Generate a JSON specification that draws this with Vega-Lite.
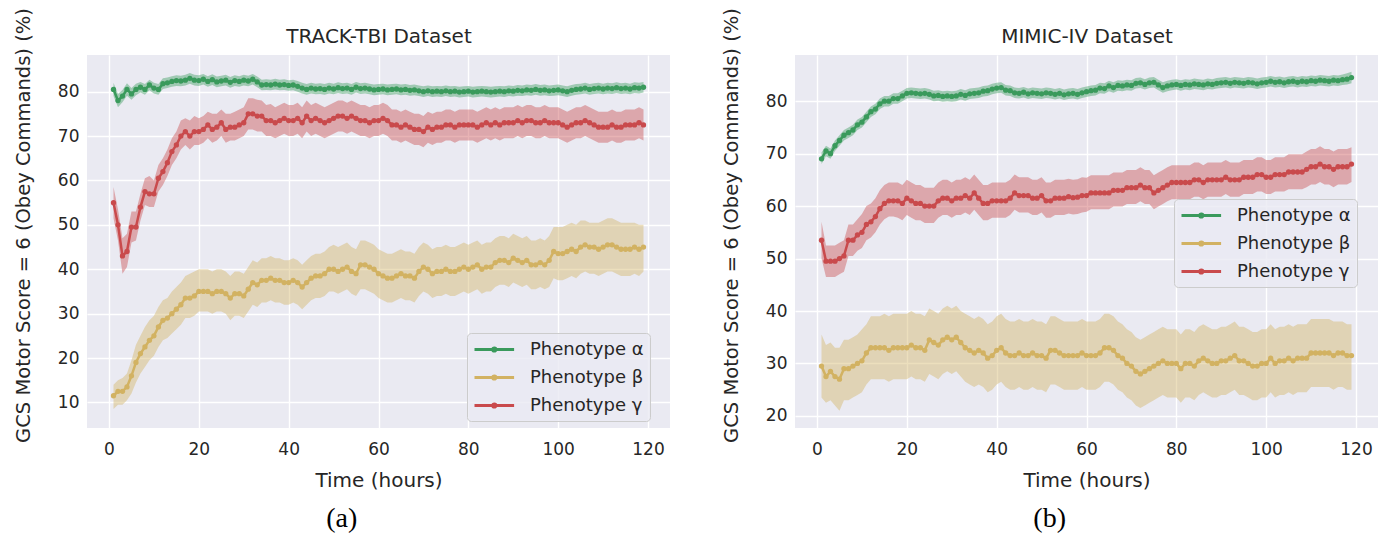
{
  "$schema": "https://vega.github.io/schema/vega-lite/v6.json",
  "background": "white",
  "padding": {"left": 13, "top": 7, "right": 0, "bottom": 0},
  "config": {
    "view": {"fill": "#EAEAF2", "stroke": null},
    "axis": {
      "grid": true, "gridColor": "#FFFFFF", "gridWidth": 1.4, "domain": false, "ticks": false,
      "labelFont": "DejaVu Sans", "labelFontSize": 17, "labelColor": "#262626",
      "titleFont": "DejaVu Sans", "titleFontSize": 20, "titleFontWeight": "normal", "titleColor": "#262626"
    },
    "axisX": {"labelPadding": 13, "titlePadding": 13},
    "axisY": {"labelPadding": 8, "titlePadding": 24, "titleFontSize": 19.5, "titleY": 170},
    "legend": {
      "labelFont": "DejaVu Sans", "labelFontSize": 18, "labelColor": "#262626",
      "fillColor": "rgba(234,234,242,0.8)", "strokeColor": "#CCCCCC", "cornerRadius": 4, "padding": 6,
      "rowPadding": 8, "labelOffset": 36,
      "symbolType": "M-1,0H3.4M1.02,0A0.18,0.18,0,1,1,1.38,0A0.18,0.18,0,1,1,1.02,0",
      "symbolSize": 324, "symbolStrokeWidth": 3, "symbolOpacity": 1
    }
  },
  "resolve": {"scale": {"color": "independent"}, "legend": {"color": "independent"}},
  "data": {"values": [
    {"p":"a","s":"α","t":1,"m":80.5,"lo":79,"hi":82},{"p":"a","s":"α","t":2,"m":78,"lo":76.5,"hi":79.5},{"p":"a","s":"α","t":3,"m":79,"lo":77.6,"hi":80.4},{"p":"a","s":"α","t":4,"m":80.5,"lo":79.1,"hi":81.9},{"p":"a","s":"α","t":5,"m":79.5,"lo":78.2,"hi":80.8},{"p":"a","s":"α","t":6,"m":80.5,"lo":79.2,"hi":81.8},{"p":"a","s":"α","t":7,"m":81,"lo":79.8,"hi":82.2},{"p":"a","s":"α","t":8,"m":80.5,"lo":79.3,"hi":81.7},{"p":"a","s":"α","t":9,"m":81.5,"lo":80.3,"hi":82.7},{"p":"a","s":"α","t":10,"m":80.8,"lo":79.6,"hi":82},
    {"p":"a","s":"α","t":11,"m":80.5,"lo":79.3,"hi":81.7},{"p":"a","s":"α","t":12,"m":81.8,"lo":80.6,"hi":83},{"p":"a","s":"α","t":13,"m":82,"lo":80.8,"hi":83.2},{"p":"a","s":"α","t":14,"m":82.3,"lo":81.1,"hi":83.5},{"p":"a","s":"α","t":15,"m":82.5,"lo":81.3,"hi":83.7},{"p":"a","s":"α","t":16,"m":82.4,"lo":81.2,"hi":83.6},{"p":"a","s":"α","t":17,"m":82.6,"lo":81.4,"hi":83.8},{"p":"a","s":"α","t":18,"m":83,"lo":81.8,"hi":84.2},{"p":"a","s":"α","t":19,"m":82.6,"lo":81.4,"hi":83.8},{"p":"a","s":"α","t":20,"m":82.5,"lo":81.3,"hi":83.7},
    {"p":"a","s":"α","t":21,"m":82.8,"lo":81.6,"hi":84},{"p":"a","s":"α","t":22,"m":82.3,"lo":81.1,"hi":83.5},{"p":"a","s":"α","t":23,"m":82.7,"lo":81.5,"hi":83.9},{"p":"a","s":"α","t":24,"m":82.2,"lo":81,"hi":83.4},{"p":"a","s":"α","t":25,"m":82.4,"lo":81.2,"hi":83.6},{"p":"a","s":"α","t":26,"m":82.6,"lo":81.4,"hi":83.8},{"p":"a","s":"α","t":27,"m":82.1,"lo":80.9,"hi":83.3},{"p":"a","s":"α","t":28,"m":82.5,"lo":81.3,"hi":83.7},{"p":"a","s":"α","t":29,"m":82.3,"lo":81.1,"hi":83.5},{"p":"a","s":"α","t":30,"m":82.6,"lo":81.4,"hi":83.8},
    {"p":"a","s":"α","t":31,"m":82.4,"lo":81.2,"hi":83.6},{"p":"a","s":"α","t":32,"m":82.8,"lo":81.6,"hi":84},{"p":"a","s":"α","t":33,"m":82.2,"lo":81,"hi":83.4},{"p":"a","s":"α","t":34,"m":81.5,"lo":80.3,"hi":82.7},{"p":"a","s":"α","t":35,"m":81.6,"lo":80.4,"hi":82.8},{"p":"a","s":"α","t":36,"m":81.5,"lo":80.3,"hi":82.7},{"p":"a","s":"α","t":37,"m":81.7,"lo":80.5,"hi":82.9},{"p":"a","s":"α","t":38,"m":81.5,"lo":80.3,"hi":82.7},{"p":"a","s":"α","t":39,"m":81.6,"lo":80.4,"hi":82.8},{"p":"a","s":"α","t":40,"m":81.4,"lo":80.2,"hi":82.6},
    {"p":"a","s":"α","t":41,"m":81.5,"lo":80.3,"hi":82.7},{"p":"a","s":"α","t":42,"m":81.2,"lo":80,"hi":82.4},{"p":"a","s":"α","t":43,"m":80.8,"lo":79.6,"hi":82},{"p":"a","s":"α","t":44,"m":80.5,"lo":79.3,"hi":81.7},{"p":"a","s":"α","t":45,"m":80.8,"lo":79.6,"hi":82},{"p":"a","s":"α","t":46,"m":80.6,"lo":79.4,"hi":81.8},{"p":"a","s":"α","t":47,"m":80.7,"lo":79.5,"hi":81.9},{"p":"a","s":"α","t":48,"m":80.5,"lo":79.3,"hi":81.7},{"p":"a","s":"α","t":49,"m":80.8,"lo":79.6,"hi":82},{"p":"a","s":"α","t":50,"m":80.6,"lo":79.4,"hi":81.8},
    {"p":"a","s":"α","t":51,"m":80.9,"lo":79.7,"hi":82.1},{"p":"a","s":"α","t":52,"m":80.7,"lo":79.5,"hi":81.9},{"p":"a","s":"α","t":53,"m":80.8,"lo":79.6,"hi":82},{"p":"a","s":"α","t":54,"m":80.5,"lo":79.3,"hi":81.7},{"p":"a","s":"α","t":55,"m":81,"lo":79.8,"hi":82.2},{"p":"a","s":"α","t":56,"m":80.7,"lo":79.5,"hi":81.9},{"p":"a","s":"α","t":57,"m":80.8,"lo":79.6,"hi":82},{"p":"a","s":"α","t":58,"m":80.6,"lo":79.4,"hi":81.8},{"p":"a","s":"α","t":59,"m":80.4,"lo":79.2,"hi":81.6},{"p":"a","s":"α","t":60,"m":80.5,"lo":79.3,"hi":81.7},
    {"p":"a","s":"α","t":61,"m":80.6,"lo":79.4,"hi":81.8},{"p":"a","s":"α","t":62,"m":80.4,"lo":79.2,"hi":81.6},{"p":"a","s":"α","t":63,"m":80.5,"lo":79.3,"hi":81.7},{"p":"a","s":"α","t":64,"m":80.6,"lo":79.4,"hi":81.8},{"p":"a","s":"α","t":65,"m":80.4,"lo":79.2,"hi":81.6},{"p":"a","s":"α","t":66,"m":80.5,"lo":79.3,"hi":81.7},{"p":"a","s":"α","t":67,"m":80.3,"lo":79.1,"hi":81.5},{"p":"a","s":"α","t":68,"m":80.4,"lo":79.2,"hi":81.6},{"p":"a","s":"α","t":69,"m":80.2,"lo":79,"hi":81.4},{"p":"a","s":"α","t":70,"m":80,"lo":78.8,"hi":81.2},
    {"p":"a","s":"α","t":71,"m":80.2,"lo":79,"hi":81.4},{"p":"a","s":"α","t":72,"m":80,"lo":78.8,"hi":81.2},{"p":"a","s":"α","t":73,"m":80.1,"lo":78.9,"hi":81.3},{"p":"a","s":"α","t":74,"m":80,"lo":78.8,"hi":81.2},{"p":"a","s":"α","t":75,"m":80.2,"lo":79,"hi":81.4},{"p":"a","s":"α","t":76,"m":80,"lo":78.8,"hi":81.2},{"p":"a","s":"α","t":77,"m":80.1,"lo":78.9,"hi":81.3},{"p":"a","s":"α","t":78,"m":79.9,"lo":78.7,"hi":81.1},{"p":"a","s":"α","t":79,"m":80,"lo":78.8,"hi":81.2},{"p":"a","s":"α","t":80,"m":80.1,"lo":78.9,"hi":81.3},
    {"p":"a","s":"α","t":81,"m":79.9,"lo":78.7,"hi":81.1},{"p":"a","s":"α","t":82,"m":80,"lo":78.8,"hi":81.2},{"p":"a","s":"α","t":83,"m":80.1,"lo":78.9,"hi":81.3},{"p":"a","s":"α","t":84,"m":80,"lo":78.8,"hi":81.2},{"p":"a","s":"α","t":85,"m":79.9,"lo":78.7,"hi":81.1},{"p":"a","s":"α","t":86,"m":80,"lo":78.8,"hi":81.2},{"p":"a","s":"α","t":87,"m":80.1,"lo":78.9,"hi":81.3},{"p":"a","s":"α","t":88,"m":80,"lo":78.8,"hi":81.2},{"p":"a","s":"α","t":89,"m":80.2,"lo":79,"hi":81.4},{"p":"a","s":"α","t":90,"m":80.1,"lo":78.9,"hi":81.3},
    {"p":"a","s":"α","t":91,"m":80.3,"lo":79.1,"hi":81.5},{"p":"a","s":"α","t":92,"m":80.2,"lo":79,"hi":81.4},{"p":"a","s":"α","t":93,"m":80.4,"lo":79.2,"hi":81.6},{"p":"a","s":"α","t":94,"m":80.3,"lo":79.1,"hi":81.5},{"p":"a","s":"α","t":95,"m":80.5,"lo":79.3,"hi":81.7},{"p":"a","s":"α","t":96,"m":80.3,"lo":79.1,"hi":81.5},{"p":"a","s":"α","t":97,"m":80.4,"lo":79.2,"hi":81.6},{"p":"a","s":"α","t":98,"m":80.2,"lo":79,"hi":81.4},{"p":"a","s":"α","t":99,"m":80.3,"lo":79.1,"hi":81.5},{"p":"a","s":"α","t":100,"m":80.4,"lo":79.2,"hi":81.6},
    {"p":"a","s":"α","t":101,"m":80.2,"lo":79,"hi":81.4},{"p":"a","s":"α","t":102,"m":80,"lo":78.8,"hi":81.2},{"p":"a","s":"α","t":103,"m":80.3,"lo":79.1,"hi":81.5},{"p":"a","s":"α","t":104,"m":80.5,"lo":79.3,"hi":81.7},{"p":"a","s":"α","t":105,"m":80.6,"lo":79.4,"hi":81.8},{"p":"a","s":"α","t":106,"m":80.8,"lo":79.6,"hi":82},{"p":"a","s":"α","t":107,"m":80.5,"lo":79.3,"hi":81.7},{"p":"a","s":"α","t":108,"m":80.7,"lo":79.5,"hi":81.9},{"p":"a","s":"α","t":109,"m":80.8,"lo":79.6,"hi":82},{"p":"a","s":"α","t":110,"m":80.6,"lo":79.4,"hi":81.8},
    {"p":"a","s":"α","t":111,"m":80.8,"lo":79.6,"hi":82},{"p":"a","s":"α","t":112,"m":80.7,"lo":79.5,"hi":81.9},{"p":"a","s":"α","t":113,"m":80.9,"lo":79.7,"hi":82.1},{"p":"a","s":"α","t":114,"m":80.7,"lo":79.5,"hi":81.9},{"p":"a","s":"α","t":115,"m":80.8,"lo":79.6,"hi":82},{"p":"a","s":"α","t":116,"m":80.6,"lo":79.4,"hi":81.8},{"p":"a","s":"α","t":117,"m":80.9,"lo":79.7,"hi":82.1},{"p":"a","s":"α","t":118,"m":80.8,"lo":79.6,"hi":82},{"p":"a","s":"α","t":119,"m":81,"lo":79.8,"hi":82.2},

    {"p":"a","s":"β","t":1,"m":11.5,"lo":8.5,"hi":14},{"p":"a","s":"β","t":2,"m":12.5,"lo":9.5,"hi":15},{"p":"a","s":"β","t":3,"m":12.5,"lo":9.5,"hi":15.5},{"p":"a","s":"β","t":4,"m":13.5,"lo":10.5,"hi":16.5},{"p":"a","s":"β","t":5,"m":16,"lo":12,"hi":19.5},{"p":"a","s":"β","t":6,"m":19,"lo":14.5,"hi":23},{"p":"a","s":"β","t":7,"m":21,"lo":16.5,"hi":25},{"p":"a","s":"β","t":8,"m":22.5,"lo":18,"hi":27},{"p":"a","s":"β","t":9,"m":24,"lo":19.5,"hi":28.5},{"p":"a","s":"β","t":10,"m":25,"lo":20.5,"hi":29.5},
    {"p":"a","s":"β","t":11,"m":27,"lo":22.5,"hi":31.5},{"p":"a","s":"β","t":12,"m":28.5,"lo":24,"hi":33},{"p":"a","s":"β","t":13,"m":29,"lo":24.5,"hi":33.5},{"p":"a","s":"β","t":14,"m":30,"lo":25.5,"hi":35},{"p":"a","s":"β","t":15,"m":31,"lo":26.5,"hi":36},{"p":"a","s":"β","t":16,"m":32,"lo":27.5,"hi":37},{"p":"a","s":"β","t":17,"m":33.5,"lo":29,"hi":38.5},{"p":"a","s":"β","t":18,"m":33.5,"lo":29,"hi":39},{"p":"a","s":"β","t":19,"m":34,"lo":29.5,"hi":39.5},{"p":"a","s":"β","t":20,"m":35,"lo":30.5,"hi":40},
    {"p":"a","s":"β","t":21,"m":35,"lo":30.5,"hi":40},{"p":"a","s":"β","t":22,"m":35,"lo":30.5,"hi":40},{"p":"a","s":"β","t":23,"m":34.5,"lo":30,"hi":39.5},{"p":"a","s":"β","t":24,"m":35,"lo":30.5,"hi":40},{"p":"a","s":"β","t":25,"m":35,"lo":30.5,"hi":40},{"p":"a","s":"β","t":26,"m":34.5,"lo":30,"hi":39.5},{"p":"a","s":"β","t":27,"m":33.5,"lo":28.5,"hi":38.5},{"p":"a","s":"β","t":28,"m":34.5,"lo":29.5,"hi":39.5},{"p":"a","s":"β","t":29,"m":34.5,"lo":29.5,"hi":39.5},{"p":"a","s":"β","t":30,"m":34,"lo":29,"hi":39},
    {"p":"a","s":"β","t":31,"m":35.5,"lo":30.5,"hi":40.5},{"p":"a","s":"β","t":32,"m":37,"lo":32,"hi":42},{"p":"a","s":"β","t":33,"m":36.5,"lo":31.5,"hi":41.5},{"p":"a","s":"β","t":34,"m":37.5,"lo":32.5,"hi":42.5},{"p":"a","s":"β","t":35,"m":37.5,"lo":32.5,"hi":42.5},{"p":"a","s":"β","t":36,"m":38,"lo":33,"hi":43},{"p":"a","s":"β","t":37,"m":37.5,"lo":32.5,"hi":42.5},{"p":"a","s":"β","t":38,"m":37.5,"lo":32.5,"hi":42.5},{"p":"a","s":"β","t":39,"m":37,"lo":32,"hi":42},{"p":"a","s":"β","t":40,"m":37,"lo":32,"hi":42},
    {"p":"a","s":"β","t":41,"m":37.5,"lo":32.5,"hi":42.5},{"p":"a","s":"β","t":42,"m":37,"lo":32,"hi":42},{"p":"a","s":"β","t":43,"m":36,"lo":31,"hi":41},{"p":"a","s":"β","t":44,"m":37,"lo":32,"hi":42},{"p":"a","s":"β","t":45,"m":38,"lo":33,"hi":43},{"p":"a","s":"β","t":46,"m":38.5,"lo":33.5,"hi":43.5},{"p":"a","s":"β","t":47,"m":38.5,"lo":33.5,"hi":43.5},{"p":"a","s":"β","t":48,"m":39,"lo":34,"hi":44},{"p":"a","s":"β","t":49,"m":40,"lo":35,"hi":45},{"p":"a","s":"β","t":50,"m":40,"lo":35,"hi":45.5},
    {"p":"a","s":"β","t":51,"m":39.5,"lo":34.5,"hi":45},{"p":"a","s":"β","t":52,"m":40,"lo":35,"hi":45.5},{"p":"a","s":"β","t":53,"m":40.5,"lo":35.5,"hi":46},{"p":"a","s":"β","t":54,"m":39.5,"lo":34.5,"hi":45},{"p":"a","s":"β","t":55,"m":39,"lo":34,"hi":44.5},{"p":"a","s":"β","t":56,"m":41,"lo":35.5,"hi":46.5},{"p":"a","s":"β","t":57,"m":41,"lo":35.5,"hi":46.5},{"p":"a","s":"β","t":58,"m":40.5,"lo":35,"hi":46},{"p":"a","s":"β","t":59,"m":40,"lo":34.5,"hi":45.5},{"p":"a","s":"β","t":60,"m":39,"lo":33.5,"hi":44.5},
    {"p":"a","s":"β","t":61,"m":38.5,"lo":33,"hi":44},{"p":"a","s":"β","t":62,"m":38,"lo":32.5,"hi":43.5},{"p":"a","s":"β","t":63,"m":38,"lo":32.5,"hi":43.5},{"p":"a","s":"β","t":64,"m":38.5,"lo":33,"hi":44},{"p":"a","s":"β","t":65,"m":39,"lo":33.5,"hi":44.5},{"p":"a","s":"β","t":66,"m":38.5,"lo":33,"hi":44},{"p":"a","s":"β","t":67,"m":38.5,"lo":33,"hi":44},{"p":"a","s":"β","t":68,"m":38,"lo":32.5,"hi":43.5},{"p":"a","s":"β","t":69,"m":39.5,"lo":34,"hi":45},{"p":"a","s":"β","t":70,"m":40.5,"lo":35,"hi":46},
    {"p":"a","s":"β","t":71,"m":40,"lo":34.5,"hi":45.5},{"p":"a","s":"β","t":72,"m":39,"lo":33.5,"hi":44.5},{"p":"a","s":"β","t":73,"m":39.5,"lo":34,"hi":45},{"p":"a","s":"β","t":74,"m":39.5,"lo":34,"hi":45},{"p":"a","s":"β","t":75,"m":40,"lo":34.5,"hi":45.5},{"p":"a","s":"β","t":76,"m":39.5,"lo":34,"hi":45},{"p":"a","s":"β","t":77,"m":39.5,"lo":34,"hi":45},{"p":"a","s":"β","t":78,"m":40,"lo":34.5,"hi":45.5},{"p":"a","s":"β","t":79,"m":40.5,"lo":35,"hi":46},{"p":"a","s":"β","t":80,"m":40,"lo":34.5,"hi":45.5},
    {"p":"a","s":"β","t":81,"m":40.5,"lo":35,"hi":46},{"p":"a","s":"β","t":82,"m":41,"lo":35.5,"hi":46.5},{"p":"a","s":"β","t":83,"m":40,"lo":34.5,"hi":45.5},{"p":"a","s":"β","t":84,"m":40.5,"lo":35,"hi":46},{"p":"a","s":"β","t":85,"m":40.5,"lo":35,"hi":46},{"p":"a","s":"β","t":86,"m":41.5,"lo":36,"hi":47},{"p":"a","s":"β","t":87,"m":42,"lo":36.5,"hi":47.5},{"p":"a","s":"β","t":88,"m":42,"lo":36.5,"hi":47.5},{"p":"a","s":"β","t":89,"m":41.5,"lo":36,"hi":47},{"p":"a","s":"β","t":90,"m":42.5,"lo":37,"hi":48},
    {"p":"a","s":"β","t":91,"m":42,"lo":36.5,"hi":47.5},{"p":"a","s":"β","t":92,"m":41.5,"lo":36,"hi":47},{"p":"a","s":"β","t":93,"m":42,"lo":36.5,"hi":47.5},{"p":"a","s":"β","t":94,"m":41,"lo":35.5,"hi":46.5},{"p":"a","s":"β","t":95,"m":41,"lo":35.5,"hi":46.5},{"p":"a","s":"β","t":96,"m":41.5,"lo":36,"hi":47},{"p":"a","s":"β","t":97,"m":41,"lo":35.5,"hi":46.5},{"p":"a","s":"β","t":98,"m":42,"lo":36,"hi":47.5},{"p":"a","s":"β","t":99,"m":44,"lo":38,"hi":49.5},{"p":"a","s":"β","t":100,"m":43.5,"lo":37.5,"hi":49.5},
    {"p":"a","s":"β","t":101,"m":43.5,"lo":37.5,"hi":49.5},{"p":"a","s":"β","t":102,"m":44,"lo":38,"hi":50},{"p":"a","s":"β","t":103,"m":44.5,"lo":38.5,"hi":50.5},{"p":"a","s":"β","t":104,"m":44,"lo":38,"hi":50},{"p":"a","s":"β","t":105,"m":45,"lo":39,"hi":51},{"p":"a","s":"β","t":106,"m":45.5,"lo":39.5,"hi":51},{"p":"a","s":"β","t":107,"m":45,"lo":39,"hi":50.5},{"p":"a","s":"β","t":108,"m":45,"lo":39,"hi":50.5},{"p":"a","s":"β","t":109,"m":44.5,"lo":38.5,"hi":50.5},{"p":"a","s":"β","t":110,"m":45,"lo":39,"hi":51},
    {"p":"a","s":"β","t":111,"m":45.5,"lo":39.5,"hi":51.5},{"p":"a","s":"β","t":112,"m":45.5,"lo":39.5,"hi":51.5},{"p":"a","s":"β","t":113,"m":45,"lo":39,"hi":51},{"p":"a","s":"β","t":114,"m":44.5,"lo":38.5,"hi":50.5},{"p":"a","s":"β","t":115,"m":44.5,"lo":38.5,"hi":50.5},{"p":"a","s":"β","t":116,"m":44.5,"lo":38.5,"hi":50.5},{"p":"a","s":"β","t":117,"m":45,"lo":39,"hi":50.5},{"p":"a","s":"β","t":118,"m":44.5,"lo":38.5,"hi":50},{"p":"a","s":"β","t":119,"m":45,"lo":39.5,"hi":50},

    {"p":"a","s":"γ","t":1,"m":55,"lo":51.5,"hi":58.5},{"p":"a","s":"γ","t":2,"m":50,"lo":46.5,"hi":53.5},{"p":"a","s":"γ","t":3,"m":43,"lo":39,"hi":47},{"p":"a","s":"γ","t":4,"m":44,"lo":40.5,"hi":48},{"p":"a","s":"γ","t":5,"m":49.5,"lo":46,"hi":53},{"p":"a","s":"γ","t":6,"m":49.5,"lo":46.5,"hi":53},{"p":"a","s":"γ","t":7,"m":54,"lo":51,"hi":57},{"p":"a","s":"γ","t":8,"m":57.5,"lo":54.5,"hi":60.5},{"p":"a","s":"γ","t":9,"m":57,"lo":54,"hi":61},{"p":"a","s":"γ","t":10,"m":57,"lo":54,"hi":60},
    {"p":"a","s":"γ","t":11,"m":60.5,"lo":57.5,"hi":63.5},{"p":"a","s":"γ","t":12,"m":62,"lo":59,"hi":65},{"p":"a","s":"γ","t":13,"m":64,"lo":61,"hi":67},{"p":"a","s":"γ","t":14,"m":66.5,"lo":63.5,"hi":69.5},{"p":"a","s":"γ","t":15,"m":68,"lo":65,"hi":71},{"p":"a","s":"γ","t":16,"m":70,"lo":67,"hi":73.5},{"p":"a","s":"γ","t":17,"m":71,"lo":68,"hi":74},{"p":"a","s":"γ","t":18,"m":70,"lo":67,"hi":73.5},{"p":"a","s":"γ","t":19,"m":71,"lo":68,"hi":74.5},{"p":"a","s":"γ","t":20,"m":71,"lo":68,"hi":74},
    {"p":"a","s":"γ","t":21,"m":71.5,"lo":68.5,"hi":74.5},{"p":"a","s":"γ","t":22,"m":72.5,"lo":69.5,"hi":75.5},{"p":"a","s":"γ","t":23,"m":71.5,"lo":68.5,"hi":75},{"p":"a","s":"γ","t":24,"m":72,"lo":69,"hi":75},{"p":"a","s":"γ","t":25,"m":73,"lo":70,"hi":76},{"p":"a","s":"γ","t":26,"m":71.5,"lo":68.5,"hi":75},{"p":"a","s":"γ","t":27,"m":72,"lo":69,"hi":75},{"p":"a","s":"γ","t":28,"m":72,"lo":69,"hi":75.5},{"p":"a","s":"γ","t":29,"m":72.5,"lo":69.5,"hi":76},{"p":"a","s":"γ","t":30,"m":73,"lo":70,"hi":76.5},
    {"p":"a","s":"γ","t":31,"m":75,"lo":71.5,"hi":78.5},{"p":"a","s":"γ","t":32,"m":75,"lo":71.5,"hi":78.5},{"p":"a","s":"γ","t":33,"m":74.5,"lo":71,"hi":78.2},{"p":"a","s":"γ","t":34,"m":74.5,"lo":71,"hi":78},{"p":"a","s":"γ","t":35,"m":73.5,"lo":70,"hi":77},{"p":"a","s":"γ","t":36,"m":73.5,"lo":70,"hi":77.2},{"p":"a","s":"γ","t":37,"m":73,"lo":69.5,"hi":76.5},{"p":"a","s":"γ","t":38,"m":73.5,"lo":70,"hi":77},{"p":"a","s":"γ","t":39,"m":74,"lo":70.5,"hi":77.5},{"p":"a","s":"γ","t":40,"m":73.5,"lo":70,"hi":77},
    {"p":"a","s":"γ","t":41,"m":73.5,"lo":70,"hi":77},{"p":"a","s":"γ","t":42,"m":74,"lo":70.5,"hi":77.5},{"p":"a","s":"γ","t":43,"m":73,"lo":69.5,"hi":76.5},{"p":"a","s":"γ","t":44,"m":74.5,"lo":71,"hi":78},{"p":"a","s":"γ","t":45,"m":73.5,"lo":70,"hi":77},{"p":"a","s":"γ","t":46,"m":74,"lo":70.5,"hi":77.5},{"p":"a","s":"γ","t":47,"m":73.5,"lo":70,"hi":77},{"p":"a","s":"γ","t":48,"m":73,"lo":69.5,"hi":76.5},{"p":"a","s":"γ","t":49,"m":73.5,"lo":70,"hi":77},{"p":"a","s":"γ","t":50,"m":74,"lo":70.5,"hi":77.5},
    {"p":"a","s":"γ","t":51,"m":74.5,"lo":71,"hi":78},{"p":"a","s":"γ","t":52,"m":74.5,"lo":71,"hi":78},{"p":"a","s":"γ","t":53,"m":74,"lo":70.5,"hi":77.5},{"p":"a","s":"γ","t":54,"m":74.5,"lo":71,"hi":78},{"p":"a","s":"γ","t":55,"m":74,"lo":70.5,"hi":77.5},{"p":"a","s":"γ","t":56,"m":73.5,"lo":70,"hi":77},{"p":"a","s":"γ","t":57,"m":73.5,"lo":70,"hi":77},{"p":"a","s":"γ","t":58,"m":73,"lo":69.5,"hi":76.5},{"p":"a","s":"γ","t":59,"m":73.5,"lo":70,"hi":77},{"p":"a","s":"γ","t":60,"m":73.5,"lo":70,"hi":77},
    {"p":"a","s":"γ","t":61,"m":74,"lo":70.5,"hi":77.5},{"p":"a","s":"γ","t":62,"m":73.5,"lo":70,"hi":77},{"p":"a","s":"γ","t":63,"m":72.5,"lo":69,"hi":76},{"p":"a","s":"γ","t":64,"m":72.5,"lo":69,"hi":76},{"p":"a","s":"γ","t":65,"m":72,"lo":68.5,"hi":75.5},{"p":"a","s":"γ","t":66,"m":72.5,"lo":69,"hi":76},{"p":"a","s":"γ","t":67,"m":72,"lo":68.5,"hi":75.5},{"p":"a","s":"γ","t":68,"m":71.5,"lo":68,"hi":75},{"p":"a","s":"γ","t":69,"m":71.5,"lo":68,"hi":75},{"p":"a","s":"γ","t":70,"m":71,"lo":67.5,"hi":74.5},
    {"p":"a","s":"γ","t":71,"m":72,"lo":68.5,"hi":75.5},{"p":"a","s":"γ","t":72,"m":71.5,"lo":68,"hi":75},{"p":"a","s":"γ","t":73,"m":72,"lo":68.5,"hi":75.5},{"p":"a","s":"γ","t":74,"m":72,"lo":68.5,"hi":75.5},{"p":"a","s":"γ","t":75,"m":72.5,"lo":69,"hi":76},{"p":"a","s":"γ","t":76,"m":72.5,"lo":69,"hi":76},{"p":"a","s":"γ","t":77,"m":72,"lo":68.5,"hi":75.5},{"p":"a","s":"γ","t":78,"m":72.5,"lo":69,"hi":76},{"p":"a","s":"γ","t":79,"m":72.5,"lo":69,"hi":76},{"p":"a","s":"γ","t":80,"m":72.5,"lo":69,"hi":76},
    {"p":"a","s":"γ","t":81,"m":72.5,"lo":69,"hi":76},{"p":"a","s":"γ","t":82,"m":72,"lo":68.5,"hi":75.5},{"p":"a","s":"γ","t":83,"m":72.5,"lo":69,"hi":76},{"p":"a","s":"γ","t":84,"m":73,"lo":69.5,"hi":76.5},{"p":"a","s":"γ","t":85,"m":72.5,"lo":69,"hi":76},{"p":"a","s":"γ","t":86,"m":73,"lo":69.5,"hi":76.5},{"p":"a","s":"γ","t":87,"m":72.5,"lo":69,"hi":76},{"p":"a","s":"γ","t":88,"m":73,"lo":69.5,"hi":76.5},{"p":"a","s":"γ","t":89,"m":73,"lo":69.5,"hi":76.5},{"p":"a","s":"γ","t":90,"m":73,"lo":69.5,"hi":76.5},
    {"p":"a","s":"γ","t":91,"m":73.5,"lo":70,"hi":77},{"p":"a","s":"γ","t":92,"m":73,"lo":69.5,"hi":76.5},{"p":"a","s":"γ","t":93,"m":73.5,"lo":70,"hi":77},{"p":"a","s":"γ","t":94,"m":73.5,"lo":70,"hi":77},{"p":"a","s":"γ","t":95,"m":73,"lo":69.5,"hi":76.5},{"p":"a","s":"γ","t":96,"m":73,"lo":69.5,"hi":76.5},{"p":"a","s":"γ","t":97,"m":73.5,"lo":70,"hi":77},{"p":"a","s":"γ","t":98,"m":73,"lo":69.5,"hi":76.5},{"p":"a","s":"γ","t":99,"m":73,"lo":69.5,"hi":76.5},{"p":"a","s":"γ","t":100,"m":73,"lo":69.5,"hi":76.5},
    {"p":"a","s":"γ","t":101,"m":72.5,"lo":69,"hi":76},{"p":"a","s":"γ","t":102,"m":72,"lo":68.5,"hi":75.5},{"p":"a","s":"γ","t":103,"m":72.5,"lo":69,"hi":76},{"p":"a","s":"γ","t":104,"m":73,"lo":69.5,"hi":76.5},{"p":"a","s":"γ","t":105,"m":73,"lo":69.5,"hi":76.5},{"p":"a","s":"γ","t":106,"m":73.5,"lo":70,"hi":77},{"p":"a","s":"γ","t":107,"m":73,"lo":69.5,"hi":76.5},{"p":"a","s":"γ","t":108,"m":72.5,"lo":69,"hi":76},{"p":"a","s":"γ","t":109,"m":72,"lo":68.5,"hi":75.5},{"p":"a","s":"γ","t":110,"m":72,"lo":68.5,"hi":75.5},
    {"p":"a","s":"γ","t":111,"m":72,"lo":68.5,"hi":75.5},{"p":"a","s":"γ","t":112,"m":72.5,"lo":69,"hi":76},{"p":"a","s":"γ","t":113,"m":72,"lo":68.5,"hi":75.5},{"p":"a","s":"γ","t":114,"m":72,"lo":68.5,"hi":75.5},{"p":"a","s":"γ","t":115,"m":72.5,"lo":69,"hi":76},{"p":"a","s":"γ","t":116,"m":72.5,"lo":69,"hi":76},{"p":"a","s":"γ","t":117,"m":72.5,"lo":69,"hi":76},{"p":"a","s":"γ","t":118,"m":73,"lo":69.5,"hi":76.5},{"p":"a","s":"γ","t":119,"m":72.5,"lo":69,"hi":76},

    {"p":"b","s":"α","t":1,"m":69,"lo":68,"hi":70.2},{"p":"b","s":"α","t":2,"m":70.5,"lo":69.5,"hi":71.5},{"p":"b","s":"α","t":3,"m":70,"lo":69,"hi":71},{"p":"b","s":"α","t":4,"m":71.5,"lo":70.5,"hi":72.5},{"p":"b","s":"α","t":5,"m":72.5,"lo":71.5,"hi":73.5},{"p":"b","s":"α","t":6,"m":73.5,"lo":72.5,"hi":74.5},{"p":"b","s":"α","t":7,"m":74,"lo":73,"hi":75},{"p":"b","s":"α","t":8,"m":74.5,"lo":73.5,"hi":75.5},{"p":"b","s":"α","t":9,"m":75.5,"lo":74.5,"hi":76.5},{"p":"b","s":"α","t":10,"m":76,"lo":75,"hi":77},
    {"p":"b","s":"α","t":11,"m":77,"lo":76,"hi":78},{"p":"b","s":"α","t":12,"m":78,"lo":77,"hi":79},{"p":"b","s":"α","t":13,"m":78.5,"lo":77.5,"hi":79.5},{"p":"b","s":"α","t":14,"m":79.5,"lo":78.5,"hi":80.5},{"p":"b","s":"α","t":15,"m":80,"lo":79,"hi":81},{"p":"b","s":"α","t":16,"m":80,"lo":79,"hi":81},{"p":"b","s":"α","t":17,"m":80.5,"lo":79.5,"hi":81.5},{"p":"b","s":"α","t":18,"m":80.5,"lo":79.5,"hi":81.5},{"p":"b","s":"α","t":19,"m":81,"lo":80,"hi":82},{"p":"b","s":"α","t":20,"m":81.5,"lo":80.5,"hi":82.5},
    {"p":"b","s":"α","t":21,"m":81.6,"lo":80.6,"hi":82.6},{"p":"b","s":"α","t":22,"m":81.5,"lo":80.5,"hi":82.5},{"p":"b","s":"α","t":23,"m":81.4,"lo":80.4,"hi":82.4},{"p":"b","s":"α","t":24,"m":81.5,"lo":80.5,"hi":82.5},{"p":"b","s":"α","t":25,"m":81.3,"lo":80.3,"hi":82.3},{"p":"b","s":"α","t":26,"m":81,"lo":80,"hi":82},{"p":"b","s":"α","t":27,"m":81.1,"lo":80.1,"hi":82.1},{"p":"b","s":"α","t":28,"m":80.9,"lo":79.9,"hi":81.9},{"p":"b","s":"α","t":29,"m":81,"lo":80,"hi":82},{"p":"b","s":"α","t":30,"m":80.9,"lo":79.9,"hi":81.9},
    {"p":"b","s":"α","t":31,"m":81,"lo":80,"hi":82},{"p":"b","s":"α","t":32,"m":81.3,"lo":80.3,"hi":82.3},{"p":"b","s":"α","t":33,"m":81.1,"lo":80.1,"hi":82.1},{"p":"b","s":"α","t":34,"m":81.4,"lo":80.4,"hi":82.4},{"p":"b","s":"α","t":35,"m":81.5,"lo":80.5,"hi":82.5},{"p":"b","s":"α","t":36,"m":81.6,"lo":80.6,"hi":82.6},{"p":"b","s":"α","t":37,"m":81.9,"lo":80.9,"hi":82.9},{"p":"b","s":"α","t":38,"m":82,"lo":81,"hi":83},{"p":"b","s":"α","t":39,"m":82.3,"lo":81.3,"hi":83.3},{"p":"b","s":"α","t":40,"m":82.5,"lo":81.5,"hi":83.5},
    {"p":"b","s":"α","t":41,"m":82.6,"lo":81.6,"hi":83.6},{"p":"b","s":"α","t":42,"m":82.1,"lo":81.1,"hi":83.1},{"p":"b","s":"α","t":43,"m":82,"lo":81,"hi":83},{"p":"b","s":"α","t":44,"m":81.6,"lo":80.6,"hi":82.6},{"p":"b","s":"α","t":45,"m":81.5,"lo":80.5,"hi":82.5},{"p":"b","s":"α","t":46,"m":81.7,"lo":80.7,"hi":82.7},{"p":"b","s":"α","t":47,"m":81.4,"lo":80.4,"hi":82.4},{"p":"b","s":"α","t":48,"m":81.6,"lo":80.6,"hi":82.6},{"p":"b","s":"α","t":49,"m":81.5,"lo":80.5,"hi":82.5},{"p":"b","s":"α","t":50,"m":81.4,"lo":80.4,"hi":82.4},
    {"p":"b","s":"α","t":51,"m":81.6,"lo":80.6,"hi":82.6},{"p":"b","s":"α","t":52,"m":81.5,"lo":80.5,"hi":82.5},{"p":"b","s":"α","t":53,"m":81.3,"lo":80.3,"hi":82.3},{"p":"b","s":"α","t":54,"m":81.5,"lo":80.5,"hi":82.5},{"p":"b","s":"α","t":55,"m":81.2,"lo":80.2,"hi":82.2},{"p":"b","s":"α","t":56,"m":81.4,"lo":80.4,"hi":82.4},{"p":"b","s":"α","t":57,"m":81.5,"lo":80.5,"hi":82.5},{"p":"b","s":"α","t":58,"m":81.3,"lo":80.3,"hi":82.3},{"p":"b","s":"α","t":59,"m":81.6,"lo":80.6,"hi":82.6},{"p":"b","s":"α","t":60,"m":81.8,"lo":80.8,"hi":82.8},
    {"p":"b","s":"α","t":61,"m":82,"lo":81,"hi":83},{"p":"b","s":"α","t":62,"m":82.1,"lo":81.1,"hi":83.1},{"p":"b","s":"α","t":63,"m":82.5,"lo":81.5,"hi":83.5},{"p":"b","s":"α","t":64,"m":82.4,"lo":81.4,"hi":83.4},{"p":"b","s":"α","t":65,"m":82.9,"lo":81.9,"hi":83.9},{"p":"b","s":"α","t":66,"m":82.6,"lo":81.6,"hi":83.6},{"p":"b","s":"α","t":67,"m":83,"lo":82,"hi":84},{"p":"b","s":"α","t":68,"m":82.9,"lo":81.9,"hi":83.9},{"p":"b","s":"α","t":69,"m":83.1,"lo":82.1,"hi":84.1},{"p":"b","s":"α","t":70,"m":83,"lo":82,"hi":84},
    {"p":"b","s":"α","t":71,"m":83.4,"lo":82.4,"hi":84.4},{"p":"b","s":"α","t":72,"m":83.5,"lo":82.5,"hi":84.5},{"p":"b","s":"α","t":73,"m":83.2,"lo":82.2,"hi":84.2},{"p":"b","s":"α","t":74,"m":83.5,"lo":82.5,"hi":84.5},{"p":"b","s":"α","t":75,"m":83.6,"lo":82.6,"hi":84.6},{"p":"b","s":"α","t":76,"m":83.1,"lo":82.1,"hi":84.1},{"p":"b","s":"α","t":77,"m":82.6,"lo":81.6,"hi":83.6},{"p":"b","s":"α","t":78,"m":82.9,"lo":81.9,"hi":83.9},{"p":"b","s":"α","t":79,"m":83.1,"lo":82.1,"hi":84.1},{"p":"b","s":"α","t":80,"m":83.2,"lo":82.2,"hi":84.2},
    {"p":"b","s":"α","t":81,"m":83,"lo":82,"hi":84},{"p":"b","s":"α","t":82,"m":83.2,"lo":82.2,"hi":84.2},{"p":"b","s":"α","t":83,"m":83.1,"lo":82.1,"hi":84.1},{"p":"b","s":"α","t":84,"m":83.3,"lo":82.3,"hi":84.3},{"p":"b","s":"α","t":85,"m":83.2,"lo":82.2,"hi":84.2},{"p":"b","s":"α","t":86,"m":83.1,"lo":82.1,"hi":84.1},{"p":"b","s":"α","t":87,"m":83.3,"lo":82.3,"hi":84.3},{"p":"b","s":"α","t":88,"m":83.2,"lo":82.2,"hi":84.2},{"p":"b","s":"α","t":89,"m":83.4,"lo":82.4,"hi":84.4},{"p":"b","s":"α","t":90,"m":83.5,"lo":82.5,"hi":84.5},
    {"p":"b","s":"α","t":91,"m":83.6,"lo":82.6,"hi":84.6},{"p":"b","s":"α","t":92,"m":83.4,"lo":82.4,"hi":84.4},{"p":"b","s":"α","t":93,"m":83.6,"lo":82.6,"hi":84.6},{"p":"b","s":"α","t":94,"m":83.5,"lo":82.5,"hi":84.5},{"p":"b","s":"α","t":95,"m":83.4,"lo":82.4,"hi":84.4},{"p":"b","s":"α","t":96,"m":83.6,"lo":82.6,"hi":84.6},{"p":"b","s":"α","t":97,"m":83.5,"lo":82.5,"hi":84.5},{"p":"b","s":"α","t":98,"m":83.3,"lo":82.3,"hi":84.3},{"p":"b","s":"α","t":99,"m":83.5,"lo":82.5,"hi":84.5},{"p":"b","s":"α","t":100,"m":83.6,"lo":82.6,"hi":84.6},
    {"p":"b","s":"α","t":101,"m":83.8,"lo":82.8,"hi":84.8},{"p":"b","s":"α","t":102,"m":83.6,"lo":82.6,"hi":84.6},{"p":"b","s":"α","t":103,"m":83.7,"lo":82.7,"hi":84.7},{"p":"b","s":"α","t":104,"m":83.5,"lo":82.5,"hi":84.5},{"p":"b","s":"α","t":105,"m":83.7,"lo":82.7,"hi":84.7},{"p":"b","s":"α","t":106,"m":83.8,"lo":82.8,"hi":84.8},{"p":"b","s":"α","t":107,"m":83.6,"lo":82.6,"hi":84.6},{"p":"b","s":"α","t":108,"m":83.8,"lo":82.8,"hi":84.8},{"p":"b","s":"α","t":109,"m":83.7,"lo":82.7,"hi":84.7},{"p":"b","s":"α","t":110,"m":83.9,"lo":82.9,"hi":84.9},
    {"p":"b","s":"α","t":111,"m":83.8,"lo":82.8,"hi":84.8},{"p":"b","s":"α","t":112,"m":84,"lo":83,"hi":85},{"p":"b","s":"α","t":113,"m":83.9,"lo":82.9,"hi":84.9},{"p":"b","s":"α","t":114,"m":83.8,"lo":82.8,"hi":84.8},{"p":"b","s":"α","t":115,"m":84,"lo":83,"hi":85},{"p":"b","s":"α","t":116,"m":83.9,"lo":82.9,"hi":84.9},{"p":"b","s":"α","t":117,"m":84.1,"lo":83.1,"hi":85.1},{"p":"b","s":"α","t":118,"m":84.2,"lo":83.2,"hi":85.3},{"p":"b","s":"α","t":119,"m":84.5,"lo":83.4,"hi":85.6},

    {"p":"b","s":"β","t":1,"m":29.5,"lo":23.5,"hi":35.5},{"p":"b","s":"β","t":2,"m":27.5,"lo":22.5,"hi":33.5},{"p":"b","s":"β","t":3,"m":28.5,"lo":23,"hi":34},{"p":"b","s":"β","t":4,"m":27.5,"lo":22,"hi":33},{"p":"b","s":"β","t":5,"m":27,"lo":21,"hi":33},{"p":"b","s":"β","t":6,"m":29,"lo":23,"hi":34.5},{"p":"b","s":"β","t":7,"m":29,"lo":23,"hi":34.5},{"p":"b","s":"β","t":8,"m":29.5,"lo":23.5,"hi":35},{"p":"b","s":"β","t":9,"m":30,"lo":24,"hi":35.5},{"p":"b","s":"β","t":10,"m":30.5,"lo":24.5,"hi":36.5},
    {"p":"b","s":"β","t":11,"m":32,"lo":26,"hi":37.5},{"p":"b","s":"β","t":12,"m":33,"lo":27,"hi":39},{"p":"b","s":"β","t":13,"m":33,"lo":27,"hi":39},{"p":"b","s":"β","t":14,"m":33,"lo":27,"hi":39},{"p":"b","s":"β","t":15,"m":33,"lo":27,"hi":39.5},{"p":"b","s":"β","t":16,"m":32.5,"lo":26.5,"hi":39},{"p":"b","s":"β","t":17,"m":33,"lo":27,"hi":39.5},{"p":"b","s":"β","t":18,"m":33,"lo":27,"hi":39.5},{"p":"b","s":"β","t":19,"m":33,"lo":27,"hi":39.5},{"p":"b","s":"β","t":20,"m":33,"lo":27,"hi":39.5},
    {"p":"b","s":"β","t":21,"m":33.5,"lo":27.5,"hi":40},{"p":"b","s":"β","t":22,"m":33,"lo":27,"hi":39.5},{"p":"b","s":"β","t":23,"m":33,"lo":27,"hi":39.5},{"p":"b","s":"β","t":24,"m":32.5,"lo":26.5,"hi":39},{"p":"b","s":"β","t":25,"m":34.5,"lo":28,"hi":40.5},{"p":"b","s":"β","t":26,"m":34,"lo":27.5,"hi":40},{"p":"b","s":"β","t":27,"m":33.5,"lo":27,"hi":39.5},{"p":"b","s":"β","t":28,"m":34.5,"lo":28,"hi":40.5},{"p":"b","s":"β","t":29,"m":35,"lo":28.5,"hi":41},{"p":"b","s":"β","t":30,"m":34.5,"lo":28,"hi":40.5},
    {"p":"b","s":"β","t":31,"m":35,"lo":28.5,"hi":41},{"p":"b","s":"β","t":32,"m":34,"lo":27.5,"hi":40},{"p":"b","s":"β","t":33,"m":33,"lo":26.5,"hi":39.5},{"p":"b","s":"β","t":34,"m":32.5,"lo":26,"hi":39},{"p":"b","s":"β","t":35,"m":32,"lo":25.5,"hi":38.5},{"p":"b","s":"β","t":36,"m":32.5,"lo":26,"hi":39},{"p":"b","s":"β","t":37,"m":32,"lo":25.5,"hi":38.5},{"p":"b","s":"β","t":38,"m":31,"lo":24.5,"hi":37.5},{"p":"b","s":"β","t":39,"m":31.5,"lo":25,"hi":38},{"p":"b","s":"β","t":40,"m":32.5,"lo":26,"hi":39},
    {"p":"b","s":"β","t":41,"m":33,"lo":26.5,"hi":39.5},{"p":"b","s":"β","t":42,"m":32,"lo":25.5,"hi":38.5},{"p":"b","s":"β","t":43,"m":31.5,"lo":25,"hi":38},{"p":"b","s":"β","t":44,"m":31.5,"lo":25,"hi":38},{"p":"b","s":"β","t":45,"m":32,"lo":25.5,"hi":38.5},{"p":"b","s":"β","t":46,"m":31.5,"lo":25,"hi":38},{"p":"b","s":"β","t":47,"m":31.5,"lo":25,"hi":38},{"p":"b","s":"β","t":48,"m":32,"lo":25.5,"hi":38.5},{"p":"b","s":"β","t":49,"m":31.5,"lo":25,"hi":38},{"p":"b","s":"β","t":50,"m":31.5,"lo":25,"hi":38},
    {"p":"b","s":"β","t":51,"m":31,"lo":24.5,"hi":37.5},{"p":"b","s":"β","t":52,"m":32.5,"lo":26,"hi":39},{"p":"b","s":"β","t":53,"m":32.5,"lo":26,"hi":39},{"p":"b","s":"β","t":54,"m":32,"lo":25.5,"hi":38.5},{"p":"b","s":"β","t":55,"m":31.5,"lo":25,"hi":38},{"p":"b","s":"β","t":56,"m":31.5,"lo":25,"hi":38},{"p":"b","s":"β","t":57,"m":31.5,"lo":25,"hi":38},{"p":"b","s":"β","t":58,"m":31.5,"lo":25,"hi":38},{"p":"b","s":"β","t":59,"m":32,"lo":25.5,"hi":38.5},{"p":"b","s":"β","t":60,"m":31.5,"lo":25,"hi":38},
    {"p":"b","s":"β","t":61,"m":31.5,"lo":25,"hi":38},{"p":"b","s":"β","t":62,"m":31.5,"lo":25,"hi":38},{"p":"b","s":"β","t":63,"m":32,"lo":25.5,"hi":38.5},{"p":"b","s":"β","t":64,"m":33,"lo":26.5,"hi":39.5},{"p":"b","s":"β","t":65,"m":33,"lo":26.5,"hi":39.5},{"p":"b","s":"β","t":66,"m":32.5,"lo":26,"hi":39},{"p":"b","s":"β","t":67,"m":31.5,"lo":25,"hi":38},{"p":"b","s":"β","t":68,"m":31,"lo":24.5,"hi":37.5},{"p":"b","s":"β","t":69,"m":30,"lo":23.5,"hi":36.5},{"p":"b","s":"β","t":70,"m":29.5,"lo":23,"hi":36},
    {"p":"b","s":"β","t":71,"m":28.5,"lo":22,"hi":35},{"p":"b","s":"β","t":72,"m":28,"lo":21.5,"hi":34.5},{"p":"b","s":"β","t":73,"m":28.5,"lo":22,"hi":35},{"p":"b","s":"β","t":74,"m":29,"lo":22.5,"hi":35.5},{"p":"b","s":"β","t":75,"m":29.5,"lo":23,"hi":36},{"p":"b","s":"β","t":76,"m":30,"lo":23.5,"hi":36.5},{"p":"b","s":"β","t":77,"m":30.5,"lo":24,"hi":37},{"p":"b","s":"β","t":78,"m":30,"lo":23.5,"hi":36.5},{"p":"b","s":"β","t":79,"m":30,"lo":23.5,"hi":36.5},{"p":"b","s":"β","t":80,"m":30,"lo":23.5,"hi":36.5},
    {"p":"b","s":"β","t":81,"m":29,"lo":22.5,"hi":35.5},{"p":"b","s":"β","t":82,"m":30,"lo":23.5,"hi":36.5},{"p":"b","s":"β","t":83,"m":30,"lo":23.5,"hi":36.5},{"p":"b","s":"β","t":84,"m":29.5,"lo":23,"hi":36},{"p":"b","s":"β","t":85,"m":30.5,"lo":24,"hi":37},{"p":"b","s":"β","t":86,"m":31,"lo":24.5,"hi":37.5},{"p":"b","s":"β","t":87,"m":30.5,"lo":24,"hi":37},{"p":"b","s":"β","t":88,"m":30,"lo":23.5,"hi":36.5},{"p":"b","s":"β","t":89,"m":30,"lo":23.5,"hi":36.5},{"p":"b","s":"β","t":90,"m":30.5,"lo":24,"hi":37},
    {"p":"b","s":"β","t":91,"m":30.5,"lo":24,"hi":37},{"p":"b","s":"β","t":92,"m":31,"lo":24.5,"hi":37.5},{"p":"b","s":"β","t":93,"m":31.5,"lo":25,"hi":38},{"p":"b","s":"β","t":94,"m":30.5,"lo":24,"hi":37},{"p":"b","s":"β","t":95,"m":30.5,"lo":24,"hi":37},{"p":"b","s":"β","t":96,"m":30,"lo":23.5,"hi":36.5},{"p":"b","s":"β","t":97,"m":29.5,"lo":23,"hi":36},{"p":"b","s":"β","t":98,"m":29.5,"lo":23,"hi":36},{"p":"b","s":"β","t":99,"m":30,"lo":23.5,"hi":36.5},{"p":"b","s":"β","t":100,"m":30,"lo":23.5,"hi":36.5},
    {"p":"b","s":"β","t":101,"m":31,"lo":24.5,"hi":37.5},{"p":"b","s":"β","t":102,"m":30,"lo":23.5,"hi":36.5},{"p":"b","s":"β","t":103,"m":30.5,"lo":24,"hi":37},{"p":"b","s":"β","t":104,"m":30.5,"lo":24,"hi":37},{"p":"b","s":"β","t":105,"m":31,"lo":24.5,"hi":37.5},{"p":"b","s":"β","t":106,"m":30.5,"lo":24,"hi":37},{"p":"b","s":"β","t":107,"m":31,"lo":24.5,"hi":37.5},{"p":"b","s":"β","t":108,"m":31,"lo":24.5,"hi":37.5},{"p":"b","s":"β","t":109,"m":31,"lo":24.5,"hi":37.5},{"p":"b","s":"β","t":110,"m":32,"lo":25.5,"hi":38.5},
    {"p":"b","s":"β","t":111,"m":32,"lo":25.5,"hi":38.5},{"p":"b","s":"β","t":112,"m":32,"lo":25.5,"hi":38.5},{"p":"b","s":"β","t":113,"m":32,"lo":25.5,"hi":38.5},{"p":"b","s":"β","t":114,"m":32,"lo":25.5,"hi":38.5},{"p":"b","s":"β","t":115,"m":31.5,"lo":25,"hi":38},{"p":"b","s":"β","t":116,"m":32,"lo":25.5,"hi":38},{"p":"b","s":"β","t":117,"m":32,"lo":25.5,"hi":38},{"p":"b","s":"β","t":118,"m":31.5,"lo":25,"hi":37.5},{"p":"b","s":"β","t":119,"m":31.5,"lo":25,"hi":37.5},

    {"p":"b","s":"γ","t":1,"m":53.5,"lo":50,"hi":57},{"p":"b","s":"γ","t":2,"m":49.5,"lo":46.5,"hi":52.5},{"p":"b","s":"γ","t":3,"m":49.5,"lo":46.5,"hi":52.5},{"p":"b","s":"γ","t":4,"m":49.5,"lo":46.5,"hi":52.5},{"p":"b","s":"γ","t":5,"m":50,"lo":47,"hi":53},{"p":"b","s":"γ","t":6,"m":50.5,"lo":47.5,"hi":53.5},{"p":"b","s":"γ","t":7,"m":53.5,"lo":50.5,"hi":56.5},{"p":"b","s":"γ","t":8,"m":53.5,"lo":50.5,"hi":56.5},{"p":"b","s":"γ","t":9,"m":54.5,"lo":51.5,"hi":57.5},{"p":"b","s":"γ","t":10,"m":55,"lo":52,"hi":58.5},
    {"p":"b","s":"γ","t":11,"m":56.5,"lo":53.5,"hi":60},{"p":"b","s":"γ","t":12,"m":57,"lo":54,"hi":60.5},{"p":"b","s":"γ","t":13,"m":58,"lo":55,"hi":61.5},{"p":"b","s":"γ","t":14,"m":59.5,"lo":56.5,"hi":63},{"p":"b","s":"γ","t":15,"m":60.5,"lo":57.5,"hi":64},{"p":"b","s":"γ","t":16,"m":61,"lo":58,"hi":64.5},{"p":"b","s":"γ","t":17,"m":61,"lo":58,"hi":64.5},{"p":"b","s":"γ","t":18,"m":61,"lo":57.8,"hi":64.5},{"p":"b","s":"γ","t":19,"m":60.5,"lo":57.3,"hi":64},{"p":"b","s":"γ","t":20,"m":61.5,"lo":58.3,"hi":65},
    {"p":"b","s":"γ","t":21,"m":61,"lo":57.8,"hi":64.5},{"p":"b","s":"γ","t":22,"m":60.5,"lo":57.3,"hi":64},{"p":"b","s":"γ","t":23,"m":60.5,"lo":57.3,"hi":64},{"p":"b","s":"γ","t":24,"m":60,"lo":56.8,"hi":63.5},{"p":"b","s":"γ","t":25,"m":60,"lo":56.8,"hi":63.5},{"p":"b","s":"γ","t":26,"m":60,"lo":56.8,"hi":63.5},{"p":"b","s":"γ","t":27,"m":61,"lo":57.8,"hi":64.5},{"p":"b","s":"γ","t":28,"m":61.5,"lo":58.3,"hi":65},{"p":"b","s":"γ","t":29,"m":61.5,"lo":58.3,"hi":65},{"p":"b","s":"γ","t":30,"m":61,"lo":57.8,"hi":64.5},
    {"p":"b","s":"γ","t":31,"m":61.5,"lo":58.3,"hi":65},{"p":"b","s":"γ","t":32,"m":61.5,"lo":58.3,"hi":65},{"p":"b","s":"γ","t":33,"m":62,"lo":58.8,"hi":65.5},{"p":"b","s":"γ","t":34,"m":61.5,"lo":58.3,"hi":65},{"p":"b","s":"γ","t":35,"m":62.5,"lo":59.3,"hi":66},{"p":"b","s":"γ","t":36,"m":61.5,"lo":58.3,"hi":65},{"p":"b","s":"γ","t":37,"m":60.5,"lo":57.3,"hi":64},{"p":"b","s":"γ","t":38,"m":60.5,"lo":57.3,"hi":64},{"p":"b","s":"γ","t":39,"m":61,"lo":57.8,"hi":64.5},{"p":"b","s":"γ","t":40,"m":61,"lo":57.8,"hi":64.5},
    {"p":"b","s":"γ","t":41,"m":61,"lo":57.8,"hi":64.5},{"p":"b","s":"γ","t":42,"m":61,"lo":57.8,"hi":64.5},{"p":"b","s":"γ","t":43,"m":61.5,"lo":58.3,"hi":65},{"p":"b","s":"γ","t":44,"m":62.5,"lo":59.3,"hi":66},{"p":"b","s":"γ","t":45,"m":62,"lo":58.8,"hi":65.5},{"p":"b","s":"γ","t":46,"m":62,"lo":58.8,"hi":65.5},{"p":"b","s":"γ","t":47,"m":62,"lo":58.8,"hi":65.5},{"p":"b","s":"γ","t":48,"m":61.5,"lo":58.3,"hi":65},{"p":"b","s":"γ","t":49,"m":61.5,"lo":58.3,"hi":65},{"p":"b","s":"γ","t":50,"m":62,"lo":58.8,"hi":65.5},
    {"p":"b","s":"γ","t":51,"m":61,"lo":57.8,"hi":64.5},{"p":"b","s":"γ","t":52,"m":61,"lo":57.8,"hi":64.5},{"p":"b","s":"γ","t":53,"m":61.5,"lo":58.3,"hi":65},{"p":"b","s":"γ","t":54,"m":61.5,"lo":58.3,"hi":65},{"p":"b","s":"γ","t":55,"m":61.5,"lo":58.3,"hi":65},{"p":"b","s":"γ","t":56,"m":61.8,"lo":58.6,"hi":65.2},{"p":"b","s":"γ","t":57,"m":61.6,"lo":58.4,"hi":65},{"p":"b","s":"γ","t":58,"m":61.7,"lo":58.5,"hi":65.1},{"p":"b","s":"γ","t":59,"m":62,"lo":58.8,"hi":65.5},{"p":"b","s":"γ","t":60,"m":62,"lo":58.9,"hi":65.4},
    {"p":"b","s":"γ","t":61,"m":62.5,"lo":59.4,"hi":65.9},{"p":"b","s":"γ","t":62,"m":62.5,"lo":59.4,"hi":65.9},{"p":"b","s":"γ","t":63,"m":62.5,"lo":59.4,"hi":65.9},{"p":"b","s":"γ","t":64,"m":62.5,"lo":59.4,"hi":65.9},{"p":"b","s":"γ","t":65,"m":62.5,"lo":59.4,"hi":65.9},{"p":"b","s":"γ","t":66,"m":63,"lo":59.9,"hi":66.4},{"p":"b","s":"γ","t":67,"m":63,"lo":59.9,"hi":66.4},{"p":"b","s":"γ","t":68,"m":63,"lo":59.9,"hi":66.4},{"p":"b","s":"γ","t":69,"m":63.5,"lo":60.4,"hi":66.9},{"p":"b","s":"γ","t":70,"m":63.5,"lo":60.4,"hi":66.9},
    {"p":"b","s":"γ","t":71,"m":63.5,"lo":60.4,"hi":66.9},{"p":"b","s":"γ","t":72,"m":64,"lo":60.9,"hi":67.4},{"p":"b","s":"γ","t":73,"m":63.5,"lo":60.4,"hi":66.9},{"p":"b","s":"γ","t":74,"m":63.5,"lo":60.4,"hi":66.9},{"p":"b","s":"γ","t":75,"m":62.5,"lo":59.4,"hi":65.9},{"p":"b","s":"γ","t":76,"m":63,"lo":59.9,"hi":66.4},{"p":"b","s":"γ","t":77,"m":63.5,"lo":60.4,"hi":66.9},{"p":"b","s":"γ","t":78,"m":64,"lo":60.9,"hi":67.4},{"p":"b","s":"γ","t":79,"m":64.5,"lo":61.3,"hi":67.8},{"p":"b","s":"γ","t":80,"m":64.5,"lo":61.3,"hi":67.8},
    {"p":"b","s":"γ","t":81,"m":64.5,"lo":61.3,"hi":67.8},{"p":"b","s":"γ","t":82,"m":64.5,"lo":61.3,"hi":67.8},{"p":"b","s":"γ","t":83,"m":64.5,"lo":61.3,"hi":67.8},{"p":"b","s":"γ","t":84,"m":65,"lo":61.8,"hi":68.3},{"p":"b","s":"γ","t":85,"m":65,"lo":61.8,"hi":68.3},{"p":"b","s":"γ","t":86,"m":64.5,"lo":61.3,"hi":67.8},{"p":"b","s":"γ","t":87,"m":65,"lo":61.8,"hi":68.3},{"p":"b","s":"γ","t":88,"m":65,"lo":61.8,"hi":68.3},{"p":"b","s":"γ","t":89,"m":65,"lo":61.8,"hi":68.3},{"p":"b","s":"γ","t":90,"m":65,"lo":61.8,"hi":68.3},
    {"p":"b","s":"γ","t":91,"m":65.5,"lo":62.3,"hi":68.8},{"p":"b","s":"γ","t":92,"m":65,"lo":61.8,"hi":68.3},{"p":"b","s":"γ","t":93,"m":65,"lo":61.8,"hi":68.3},{"p":"b","s":"γ","t":94,"m":65,"lo":61.8,"hi":68.3},{"p":"b","s":"γ","t":95,"m":65.5,"lo":62.3,"hi":68.8},{"p":"b","s":"γ","t":96,"m":65.5,"lo":62.3,"hi":68.8},{"p":"b","s":"γ","t":97,"m":65.5,"lo":62.3,"hi":68.8},{"p":"b","s":"γ","t":98,"m":66,"lo":62.8,"hi":69.3},{"p":"b","s":"γ","t":99,"m":66,"lo":62.8,"hi":69.3},{"p":"b","s":"γ","t":100,"m":65.5,"lo":62.3,"hi":68.8},
    {"p":"b","s":"γ","t":101,"m":65.5,"lo":62.3,"hi":68.8},{"p":"b","s":"γ","t":102,"m":66,"lo":62.8,"hi":69.3},{"p":"b","s":"γ","t":103,"m":66,"lo":62.8,"hi":69.3},{"p":"b","s":"γ","t":104,"m":66,"lo":62.8,"hi":69.3},{"p":"b","s":"γ","t":105,"m":66.5,"lo":63.2,"hi":69.9},{"p":"b","s":"γ","t":106,"m":66.5,"lo":63.2,"hi":69.9},{"p":"b","s":"γ","t":107,"m":66.5,"lo":63.2,"hi":69.9},{"p":"b","s":"γ","t":108,"m":66.5,"lo":63.2,"hi":69.9},{"p":"b","s":"γ","t":109,"m":67,"lo":63.6,"hi":70.4},{"p":"b","s":"γ","t":110,"m":67.5,"lo":64.1,"hi":70.9},
    {"p":"b","s":"γ","t":111,"m":67.5,"lo":64.1,"hi":70.9},{"p":"b","s":"γ","t":112,"m":68,"lo":64.6,"hi":71.4},{"p":"b","s":"γ","t":113,"m":67.5,"lo":64.1,"hi":70.9},{"p":"b","s":"γ","t":114,"m":67.5,"lo":64.1,"hi":70.9},{"p":"b","s":"γ","t":115,"m":67,"lo":63.6,"hi":70.4},{"p":"b","s":"γ","t":116,"m":67.5,"lo":64.1,"hi":70.9},{"p":"b","s":"γ","t":117,"m":67.5,"lo":64.1,"hi":70.9},{"p":"b","s":"γ","t":118,"m":67.5,"lo":64.1,"hi":70.9},{"p":"b","s":"γ","t":119,"m":68,"lo":64.6,"hi":71.2}
  ]},
  "spacing": 51,
  "hconcat": [
    {
      "title": {"text": "(a)", "orient": "bottom", "font": "Liberation Serif", "fontSize": 28, "fontWeight": "normal", "color": "#000000", "offset": 15, "frame": "bounds", "anchor": "middle"},
      "vconcat": [
        {
          "width": 583, "height": 373,
          "transform": [{"filter": "datum.p === 'a'"}],
          "resolve": {"axis": {"x": "independent"}},
          "encoding": {
            "color": {"field": "s", "type": "nominal",
                      "scale": {"domain": ["α", "β", "γ"], "range": ["#3a9a5c", "#d2b262", "#c94a4c"]},
                      "legend": {"title": null, "orient": "none", "legendX": 380, "legendY": 278,
                                 "labelExpr": "'Phenotype ' + datum.label"}}
          },
          "layer": [
            {
              "mark": {"type": "area", "opacity": 0.42},
              "encoding": {
                "x": {"field": "t", "type": "quantitative", "scale": {"domain": [-4.9, 124.9], "nice": false, "zero": false},
                      "axis": {"values": [0, 20, 40, 60, 80, 100, 120], "title": "Time (hours)"}},
                "y": {"field": "lo", "type": "quantitative", "scale": {"domain": [4.24, 88.26], "nice": false, "zero": false},
                      "axis": {"values": [10, 20, 30, 40, 50, 60, 70, 80], "title": "GCS Motor Score = 6 (Obey Commands) (%)"}},
                "y2": {"field": "hi"}
              }
            },
            {
              "mark": {"type": "line", "strokeWidth": 2.5, "point": {"filled": true, "size": 28}},
              "encoding": {
                "x": {"field": "t", "type": "quantitative",
                      "axis": {"orient": "top", "labels": false, "grid": false, "title": "TRACK-TBI Dataset", "titleFontSize": 20, "titlePadding": 9}},
                "y": {"field": "m", "type": "quantitative"}
              }
            }
          ]
        }
      ]
    },
    {
      "title": {"text": "(b)", "orient": "bottom", "font": "Liberation Serif", "fontSize": 28, "fontWeight": "normal", "color": "#000000", "offset": 15, "frame": "bounds", "anchor": "middle"},
      "vconcat": [
        {
          "width": 583, "height": 373,
          "transform": [{"filter": "datum.p === 'b'"}],
          "resolve": {"axis": {"x": "independent"}},
          "encoding": {
            "color": {"field": "s", "type": "nominal",
                      "scale": {"domain": ["α", "β", "γ"], "range": ["#3a9a5c", "#d2b262", "#c94a4c"]},
                      "legend": {"title": null, "orient": "none", "legendX": 379, "legendY": 144,
                                 "labelExpr": "'Phenotype ' + datum.label"}}
          },
          "layer": [
            {
              "mark": {"type": "area", "opacity": 0.42},
              "encoding": {
                "x": {"field": "t", "type": "quantitative", "scale": {"domain": [-4.9, 124.9], "nice": false, "zero": false},
                      "axis": {"values": [0, 20, 40, 60, 80, 100, 120], "title": "Time (hours)"}},
                "y": {"field": "lo", "type": "quantitative", "scale": {"domain": [17.7, 88.8], "nice": false, "zero": false},
                      "axis": {"values": [20, 30, 40, 50, 60, 70, 80], "title": "GCS Motor Score = 6 (Obey Commands) (%)"}},
                "y2": {"field": "hi"}
              }
            },
            {
              "mark": {"type": "line", "strokeWidth": 2.5, "point": {"filled": true, "size": 28}},
              "encoding": {
                "x": {"field": "t", "type": "quantitative",
                      "axis": {"orient": "top", "labels": false, "grid": false, "title": "MIMIC-IV Dataset", "titleFontSize": 20, "titlePadding": 9}},
                "y": {"field": "m", "type": "quantitative"}
              }
            }
          ]
        }
      ]
    }
  ]
}
